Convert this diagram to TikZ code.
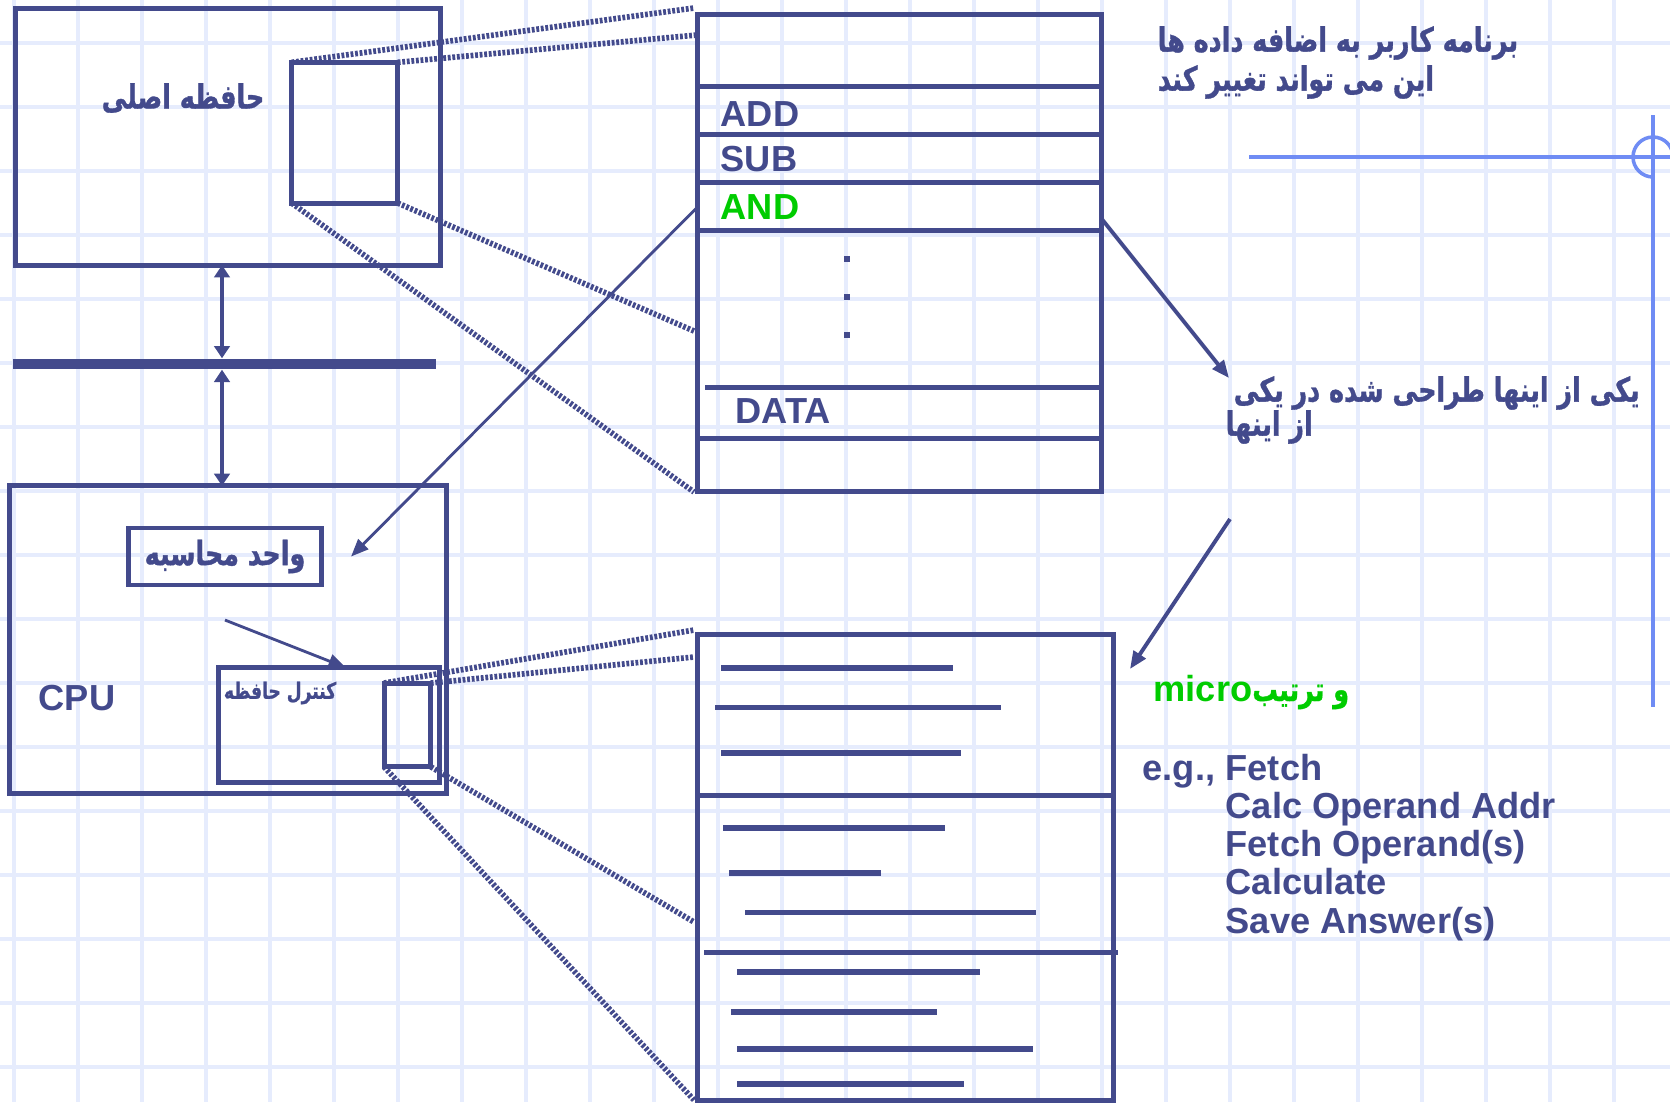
\documentclass[tikz,border=0pt]{standalone}
\usepackage{fontspec}
\setmainfont{Liberation Sans}
\newfontfamily\fafont[Script=Arabic,FakeStretch=0.76,BoldFeatures={FakeBold=1}]{DejaVu Sans}
\TeXXeTstate=1
\usetikzlibrary{arrows.meta,positioning,calc}
\definecolor{mainc}{HTML}{434A8C}
\definecolor{grnc}{HTML}{00CC00}
\definecolor{tplc}{HTML}{6F8CF4}
\definecolor{gridc}{HTML}{E6ECFD}
\tikzset{
  box/.style={draw=mainc,line width=1.4pt,inner sep=0pt,outer sep=0pt},
  row/.style={draw=mainc,line width=1.35pt},
  bar/.style={draw=mainc,line width=1.5pt},
  lbl/.style={font=\fontsize{10.3}{11}\selectfont\bfseries,text=mainc,inner sep=0pt},
  falbl/.style={font=\fafont\fontsize{9.5}{11}\selectfont\bfseries,text=mainc,inner sep=0pt},
  zoomln/.style={draw=mainc,line width=1.6pt,dash pattern=on 0.8pt off 0.5pt},
  busarr/.style={draw=mainc,line width=1.3pt,{Triangle[length=3.5pt,width=4.4pt]}-{Triangle[length=3.5pt,width=4.4pt]}},
  ptr/.style={draw=mainc,line width=0.8pt,-{Triangle[length=5pt,width=4pt]}},
  ptrb/.style={ptr,line width=1.1pt},
  gridln/.style={draw=gridc,line width=1.1pt},
  tpl/.style={draw=tplc,line width=1pt},
}

\begin{document}
\begin{tikzpicture}[x=0.01cm,y=-0.01cm]
  \useasboundingbox (0,0) rectangle (1670,1102);
  \fill[white] (0,0) rectangle (1670,1102);
  \clip (0,0) rectangle (1670,1102);
  \foreach \k in {0,...,25} \draw[gridln] ({14+64*\k},0) -- ({14+64*\k},1102);
  \foreach \k in {0,...,16} \draw[gridln] (0,{43+64*\k}) -- (1670,{43+64*\k});
  \draw[tpl] (1249,157) -- (1670,157);
  \draw[tpl] (1653,115) -- (1653,707);
  \draw[tpl] (1653,177) arc (90:360:20);

  \node[box,minimum width=4.244cm,minimum height=2.567cm] (mem) at (227.8,136.7) {};
  \node[falbl] (memlbl) at (183,98) {\beginR حافظه اصلی\endR};
  \node[box,minimum width=1.06cm,minimum height=1.407cm] (memwin) at (344.7,132.7) {};
  \node[fill=mainc,inner sep=0pt,minimum width=4.226cm,minimum height=0.1cm] (bus) at (224.7,364) {};
  \node[box,minimum width=4.362cm,minimum height=3.07cm] (cpu) at (227.9,639.5) {};
  \node[box,falbl,minimum width=1.92cm,minimum height=0.57cm] (alu) at (225,556.5) {\beginR واحد محاسبه\endR};
  \node[lbl,anchor=base west] (cpulbl) at (38,710) {CPU};
  \node[box,minimum width=2.2cm,minimum height=1.15cm] (mc) at (329,725.2) {};
  \node[falbl,font=\fafont\fontsize{6.4}{8}\selectfont\bfseries] (mclbl) at (280,693) {\beginR کنترل حافظه\endR};
  \node[box,minimum width=0.467cm,minimum height=0.837cm] (mcwin) at (407.4,724.9) {};

  \node[box,minimum width=4.033cm,minimum height=4.767cm] (prog) at (899.4,253.4) {};
  \foreach \ry in {86.7,134.3,182.7,230.7,438.3} \draw[row] (prog.west |- 0,\ry) -- (prog.east |- 0,\ry);
  \draw[row] (705,387.7) -- (prog.east |- 0,387.7);
  \node[lbl,anchor=base west] (add) at (720,126) {ADD};
  \node[lbl,anchor=base west] (sub) at (720,171.7) {SUB};
  \node[lbl,anchor=base west,text=grnc] (and) at (720,219.3) {AND};
  \node[lbl,anchor=base west] (data) at (735,423.3) {DATA};
  \foreach \dy in {256,294,332} \fill[mainc] (843.7,\dy) rectangle +(6,6);

  \node[box,minimum width=4.15cm,minimum height=4.65cm] (micro) at (905.5,867.5) {};
  \draw[row] (micro.west |- 0,795.7) -- (micro.east |- 0,795.7);
  \draw[row] (704,952.7) -- (1117.7,952.7);
  \foreach \xa/\xb/\yy in {721/952.7/668,715/1001/707.7,721/960.7/753,723/945/828,729/880.7/873,
    745/1035.7/912.7,737/979.7/972,731/936.7/1012,737/1032.7/1049,737/963.7/1084}
    \draw[bar] (\xa,\yy) -- (\xb,\yy);

  \coordinate (pa) at (694,8);   \coordinate (pb) at (697,35);
  \coordinate (pc) at (694,331); \coordinate (pd) at (694,492);
  \draw[zoomln] (memwin.north west) -- (pa);
  \draw[zoomln] (memwin.north east) -- (pb);
  \draw[zoomln] (memwin.south east) -- (pc);
  \draw[zoomln] (memwin.south west) -- (pd);
  \coordinate (qa) at (694,630); \coordinate (qb) at (694,657);
  \coordinate (qc) at (694,922); \coordinate (qd) at (694,1100);
  \draw[zoomln] (mcwin.north west) -- (qa);
  \draw[zoomln] (mcwin.north east) -- (qb);
  \draw[zoomln] (mcwin.south east) -- (qc);
  \draw[zoomln] (mcwin.south west) -- (qd);

  \draw[busarr] (mem.south -| 222,0) -- (bus.north -| 222,0);
  \draw[busarr] (bus.south -| 222,0) -- (cpu.north -| 222,0);
  \draw[ptr] (prog.west |- and) -- ([xshift=0.3cm]alu.east);
  \draw[ptr] ([yshift=-0.35cm]alu.south) -- ([xshift=0.17cm]mc.north);
  \coordinate (andR) at (1101,218); \coordinate (tipR) at (1229,378);
  \draw[ptrb] (andR) -- (tipR);
  \coordinate (noteB) at (1230,519); \coordinate (tipB) at (1130,669);
  \draw[ptrb] (noteB) -- (tipB);

  \node[falbl,anchor=west] (note1a) at (1157,43) {\beginR برنامه کاربر به اضافه داده ها\endR};
  \node[falbl,anchor=west] (note1b) at (1157,82) {\beginR این می تواند تغییر کند\endR};
  \node[falbl,anchor=west] (note2a) at (1233,393) {\beginR یکی از اینها طراحی شده در یکی\endR};
  \node[falbl,anchor=west] (note2b) at (1225,427) {\beginR از اینها\endR};
  \node[falbl,text=grnc,anchor=west] (seq) at (1153,692)
    {\beginR و ترتیب\beginL{\rmfamily\fontsize{10.3}{11}\selectfont micro}\endL\endR};
  \node[lbl,anchor=base west] (eg) at (1142,780) {e.g.,};
  \foreach \t [count=\i from 0] in {Fetch,Calc Operand Addr,Fetch Operand(s),Calculate,Save Answer(s)}
    \node[lbl,anchor=base west] (stepl-\i) at (1225,{780+38.3*\i}) {\t};
\end{tikzpicture}
\end{document}
